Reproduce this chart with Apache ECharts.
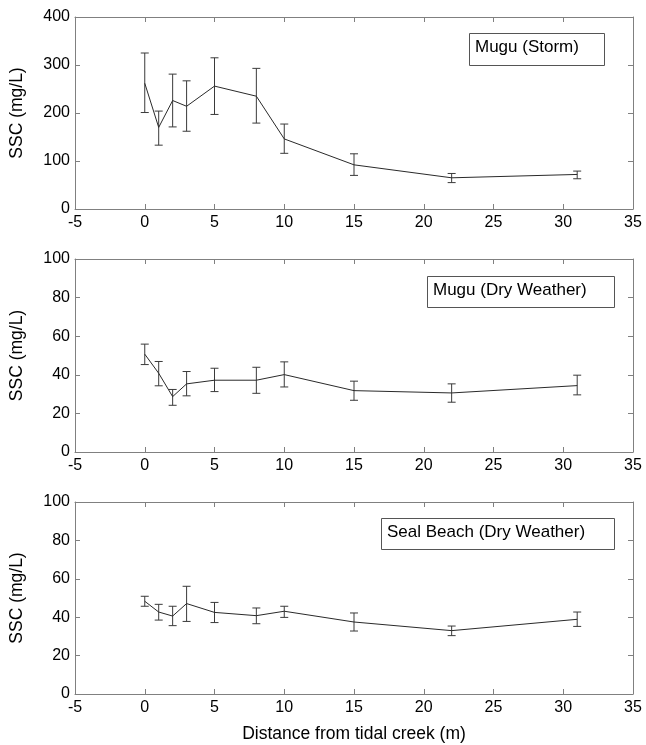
<!DOCTYPE html>
<html>
<head>
<meta charset="utf-8">
<script src="https://cdn.jsdelivr.net/npm/echarts@6/dist/echarts.min.js"></script>
<style>
html,body{margin:0;padding:0;background:#fff;}
#chart{width:646px;height:745px;}
</style>
</head>
<body>
<div id="chart"></div>
<script>
// Distance from tidal creek (m)
const distances = [0, 1, 2, 3, 5, 8, 10, 15, 22, 31];

// Panel 1: Mugu (Storm)
const stormMean = [262, 170, 226, 214, 256, 235, 146, 92, 65, 72];
const stormLow  = [201, 133, 171, 162, 197, 179, 116, 70, 55, 63];
const stormHigh = [325, 204, 281, 267, 315, 293, 177, 115, 74, 79];

// Panel 2: Mugu (Dry Weather)
const dryMean = [50.7, 40.8, 28.7, 35.3, 37.2, 37.2, 40.1, 31.8, 30.6, 34.4];
const dryLow  = [45.3, 34.3, 24.2, 29.1, 31.3, 30.4, 33.7, 26.8, 25.8, 29.6];
const dryHigh = [55.9, 46.9, 32.4, 41.7, 43.4, 43.9, 46.7, 36.7, 35.3, 39.8];

// Panel 3: Seal Beach (Dry Weather)
const sealMean = [48.3, 42.7, 40.6, 47.1, 42.5, 40.8, 43.1, 37.5, 33.0, 38.9];
const sealLow  = [45.7, 38.5, 35.6, 37.8, 37.2, 36.6, 39.9, 32.8, 30.4, 35.2];
const sealHigh = [50.9, 46.7, 45.7, 56.1, 47.7, 44.8, 45.7, 42.2, 35.4, 42.7];

const panelLabels = ['Mugu (Storm)', 'Mugu (Dry Weather)', 'Seal Beach (Dry Weather)'];
const xTicks = {min: -5, max: 35, interval: 5};
const yRanges = [{min: 0, max: 400, interval: 100}, {min: 0, max: 100, interval: 20}, {min: 0, max: 100, interval: 20}];
const yName = 'SSC (mg/L)';
const xName = 'Distance from tidal creek (m)';

const FONT = '"Liberation Sans", Arial, sans-serif';
const AXIS_COLOR = '#808080';
const LINE_COLOR = '#2a2a2a';

const grids = [
  {left: 73, width: 560, top: 17, height: 192},
  {left: 73, width: 560, top: 259, height: 193},
  {left: 73, width: 560, top: 502, height: 192}
];

const panels = [
  {mean: stormMean, low: stormLow, high: stormHigh},
  {mean: dryMean, low: dryLow, high: dryHigh},
  {mean: sealMean, low: sealLow, high: sealHigh}
];

const xAxes = [], yAxes = [], series = [];
grids.forEach((g, i) => {
  const axisLine = {show: true, onZero: false, lineStyle: {color: AXIS_COLOR, width: 1}};
  const tick = {show: true, inside: true, length: 5, lineStyle: {color: AXIS_COLOR}};
  xAxes.push({
    type: 'value', gridIndex: i, position: 'bottom',
    min: xTicks.min, max: xTicks.max, interval: xTicks.interval,
    axisLine, axisTick: tick, splitLine: {show: false},
    axisLabel: {color: '#000', fontSize: 16, fontFamily: FONT, margin: 6},
    name: i === 2 ? xName : '', nameLocation: 'middle', nameGap: 31,
    nameTextStyle: {color: '#000', fontSize: 17.5, fontFamily: FONT}
  });
  xAxes.push({
    type: 'value', gridIndex: i, position: 'top',
    min: xTicks.min, max: xTicks.max, interval: xTicks.interval,
    axisLine, axisTick: tick, splitLine: {show: false}, axisLabel: {show: false}
  });
  const yr = yRanges[i];
  yAxes.push({
    type: 'value', gridIndex: i, position: 'left',
    min: yr.min, max: yr.max, interval: yr.interval,
    axisLine, axisTick: tick, splitLine: {show: false},
    axisLabel: {color: '#000', fontSize: 16, fontFamily: FONT, margin: 5},
    name: yName, nameLocation: 'middle', nameGap: 49,
    nameTextStyle: {color: '#000', fontSize: 17.5, fontFamily: FONT}
  });
  yAxes.push({
    type: 'value', gridIndex: i, position: 'right',
    min: yr.min, max: yr.max, interval: yr.interval,
    axisLine, axisTick: tick, splitLine: {show: false}, axisLabel: {show: false}
  });

  const p = panels[i];
  series.push({
    type: 'line', xAxisIndex: i * 2, yAxisIndex: i * 2,
    data: distances.map((d, k) => [d, p.mean[k]]),
    symbol: 'none', lineStyle: {color: LINE_COLOR, width: 1}, silent: true, animation: false
  });
  series.push({
    type: 'custom', xAxisIndex: i * 2, yAxisIndex: i * 2,
    data: distances.map((d, k) => [d, p.low[k], p.high[k]]),
    animation: false, silent: true,
    renderItem: function (params, api) {
      const x = api.value(0);
      const lo = api.coord([x, api.value(1)]);
      const hi = api.coord([x, api.value(2)]);
      const w = 4;
      const style = {stroke: '#3a3a3a', lineWidth: 1, fill: null};
      return {
        type: 'group',
        children: [
          {type: 'line', shape: {x1: lo[0], y1: lo[1], x2: hi[0], y2: hi[1]}, style},
          {type: 'line', shape: {x1: hi[0] - w, y1: hi[1], x2: hi[0] + w, y2: hi[1]}, style},
          {type: 'line', shape: {x1: lo[0] - w, y1: lo[1], x2: lo[0] + w, y2: lo[1]}, style}
        ]
      };
    }
  });
});

const boxes = [
  {x: 469, y: 33, w: 135, h: 32},
  {x: 427, y: 276, w: 187, h: 31},
  {x: 381, y: 518, w: 233, h: 31}
];
const graphic = [];
boxes.forEach((b, i) => {
  graphic.push({
    type: 'rect', left: b.x, top: b.y, z: 100,
    shape: {width: b.w, height: b.h},
    style: {fill: '#fff', stroke: '#555', lineWidth: 1}
  });
  graphic.push({
    type: 'text', left: b.x + 6, top: b.y + 6, z: 101,
    style: {text: panelLabels[i], fill: '#000', font: '17px ' + FONT}
  });
});

const chart = echarts.init(document.getElementById('chart'), null, {renderer: 'canvas'});
chart.setOption({
  backgroundColor: '#fff',
  animation: false,
  grid: grids,
  xAxis: xAxes,
  yAxis: yAxes,
  series,
  graphic
});
</script>
</body>
</html>
